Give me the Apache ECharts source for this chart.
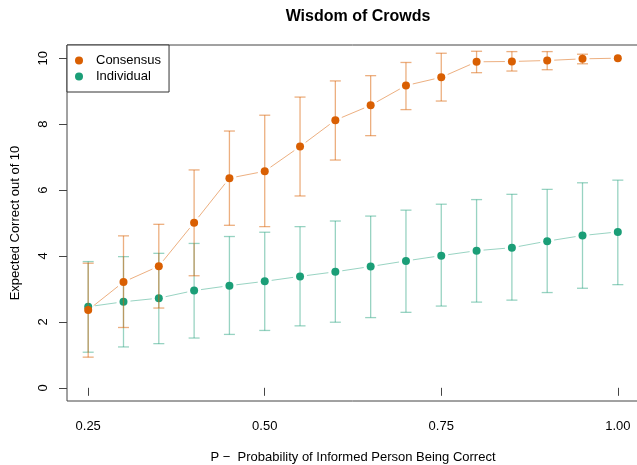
<!DOCTYPE html>
<html>
<head>
<meta charset="utf-8">
<script src="https://cdn.jsdelivr.net/npm/echarts@6/dist/echarts.min.js"></script>
<style>
html,body{margin:0;padding:0;background:#fff;}
#chart{width:637px;height:465px;}
</style>
</head>
<body>
<div id="chart"></div>
<script>
// ---- data ----
const pValues = [0.25,0.30,0.35,0.40,0.45,0.50,0.55,0.60,0.65,0.70,0.75,0.80,0.85,0.90,0.95,1.00];
const consensusMean = [2.36,3.21,3.69,5.01,6.36,6.57,7.32,8.12,8.57,9.17,9.42,9.89,9.90,9.93,9.98,10.00];
const consensusLow  = [0.93,1.83,2.42,3.40,4.93,4.89,5.82,6.91,7.65,8.44,8.70,9.56,9.61,9.65,9.83,10.00];
const consensusHigh = [3.78,4.61,4.96,6.61,7.79,8.27,8.82,9.31,9.47,9.87,10.15,10.21,10.20,10.20,10.12,10.00];
const individualMean = [2.46,2.61,2.72,2.95,3.10,3.23,3.38,3.52,3.68,3.85,4.01,4.16,4.25,4.45,4.62,4.73];
const individualLow  = [1.08,1.24,1.34,1.51,1.62,1.74,1.88,1.99,2.13,2.29,2.48,2.60,2.66,2.89,3.02,3.13];
const individualHigh = [3.83,3.98,4.08,4.38,4.59,4.72,4.89,5.06,5.21,5.39,5.57,5.71,5.87,6.02,6.22,6.30];
const xTicks = [0.25,0.50,0.75,1.00];
const yTicks = [0,2,4,6,8,10];
const seriesNames = ['Consensus','Individual'];

// ---- styles ----
const FONT = 'Liberation Sans, Arial, Helvetica, sans-serif';
const ORANGE = '#D95F02', GREEN = '#1B9E77';
const ORANGE_T = 'rgba(217,95,2,0.5)', GREEN_T = 'rgba(27,158,119,0.45)';

function segData(xs, ys){
  const out = [];
  for (let i = 0; i < xs.length - 1; i++) out.push([xs[i], ys[i], xs[i+1], ys[i+1]]);
  return out;
}
function barData(xs, lo, hi){
  return xs.map((x,i)=>[x, lo[i], hi[i]]);
}
function segRender(color){
  return function(params, api){
    const a = api.coord([api.value(0), api.value(1)]);
    const b = api.coord([api.value(2), api.value(3)]);
    const dx = b[0]-a[0], dy = b[1]-a[1];
    const len = Math.sqrt(dx*dx+dy*dy);
    const g = 7;
    if (len <= 2*g) return null;
    const ux = dx/len, uy = dy/len;
    return {type:'line', shape:{x1:a[0]+ux*g, y1:a[1]+uy*g, x2:b[0]-ux*g, y2:b[1]-uy*g},
      style:{stroke:color, lineWidth:1}};
  };
}
function barRender(color){
  return function(params, api){
    const lo = api.coord([api.value(0), api.value(1)]);
    const hi = api.coord([api.value(0), api.value(2)]);
    const w = 5.5;
    if (Math.abs(lo[1]-hi[1]) < 0.5) return null;
    const st = {stroke:color, lineWidth:1.3};
    return {type:'group', children:[
      {type:'line', shape:{x1:lo[0], y1:lo[1], x2:hi[0], y2:hi[1]}, style:st},
      {type:'line', shape:{x1:lo[0]-w, y1:lo[1], x2:lo[0]+w, y2:lo[1]}, style:st},
      {type:'line', shape:{x1:hi[0]-w, y1:hi[1], x2:hi[0]+w, y2:hi[1]}, style:st}
    ]};
  };
}

const chart = echarts.init(document.getElementById('chart'), null, {renderer:'canvas'});
chart.setOption({
  animation:false,
  backgroundColor:'#fff',
  textStyle:{fontFamily:FONT},
  title:{text:'Wisdom of Crowds', left:353, textAlign:'center', top:4,
    textStyle:{fontFamily:FONT, fontSize:16, fontWeight:'bold', color:'#000'}},
  legend:{
    data:seriesNames.map(n=>({name:n, icon:'circle'})),
    orient:'vertical', left:67, top:45, padding:[9,8,9,8],
    itemWidth:8, itemHeight:8, itemGap:3, selectedMode:false,
    borderColor:'#333', borderWidth:1, backgroundColor:'#fff',
    textStyle:{fontFamily:FONT, fontSize:13, color:'#000', padding:[0,0,0,8]}
  },
  grid:{left:67, right:-2, top:45, bottom:64, show:true, borderColor:'#444', borderWidth:1,
    containLabel:false, outerBoundsMode:'none'},
  xAxis:{
    type:'value', min:0.22, max:1.03,
    name:'P \u2212  Probability of Informed Person Being Correct',
    nameLocation:'middle', nameGap:50,
    nameTextStyle:{fontFamily:FONT, fontSize:13, color:'#000'},
    axisLine:{show:false},
    axisTick:{show:true, inside:false, length:8, customValues:xTicks, lineStyle:{color:'#444'}},
    axisLabel:{show:true, margin:19, customValues:xTicks, fontFamily:FONT, fontSize:13, color:'#000',
      formatter:v=>v.toFixed(2)},
    splitLine:{show:false}
  },
  yAxis:{
    type:'value', min:-0.4, max:10.4,
    name:'Expected Correct out of 10',
    nameLocation:'middle', nameGap:45,
    nameTextStyle:{fontFamily:FONT, fontSize:13, color:'#000'},
    axisLine:{show:false},
    axisTick:{show:true, inside:false, length:8, customValues:yTicks, lineStyle:{color:'#444'}},
    axisLabel:{show:true, rotate:90, margin:17, customValues:yTicks, fontFamily:FONT, fontSize:13, color:'#000',
      formatter:v=>String(v)},
    splitLine:{show:false}
  },
  series:[
    {type:'custom', name:'indBars', renderItem:barRender(GREEN_T), data:barData(pValues, individualLow, individualHigh), z:2, silent:true},
    {type:'custom', name:'indLine', renderItem:segRender(GREEN_T), data:segData(pValues, individualMean), z:2, silent:true},
    {type:'scatter', name:'Individual', data:pValues.map((x,i)=>[x, individualMean[i]]), symbol:'circle', symbolSize:8,
      itemStyle:{color:GREEN, opacity:1}, z:3},
    {type:'custom', name:'conBars', renderItem:barRender(ORANGE_T), data:barData(pValues, consensusLow, consensusHigh), z:4, silent:true},
    {type:'custom', name:'conLine', renderItem:segRender(ORANGE_T), data:segData(pValues, consensusMean), z:4, silent:true},
    {type:'scatter', name:'Consensus', data:pValues.map((x,i)=>[x, consensusMean[i]]), symbol:'circle', symbolSize:8,
      itemStyle:{color:ORANGE, opacity:1}, z:5}
  ]
});
</script>
</body>
</html>
